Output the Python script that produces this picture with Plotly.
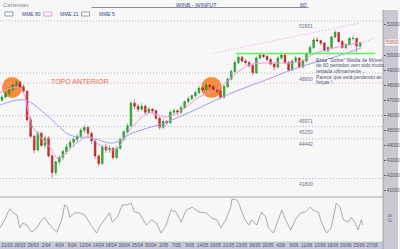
import plotly.graph_objects as go

# ---------------- data ----------------
idx = list(range(101))
opens = [47000, 47210, 47450, 47700, 48000, 48200, 47900, 47600, 45700, 44600,
         43700, 44800, 44000, 44500, 43300, 42200, 42900, 43200, 43600, 43900,
         44200, 44400, 44600, 45000, 45200, 44800, 44300, 43300, 42800, 43900,
         43700, 43800, 43200, 43800, 44400, 44900, 45300, 46800, 46600, 46400,
         46600, 46200, 46400, 46300, 45800, 45200, 45600, 45500, 46200, 46300,
         46200, 46500, 46900, 47100, 47300, 47500, 47800, 47700, 48000, 47900,
         47700, 47600, 47200, 47900, 48400, 48900, 49500, 49850, 49600, 49500,
         49300, 48800, 49800, 50000, 49900, 49700, 49400, 49200, 49800, 50000,
         49500, 49000, 49600, 49800, 49200, 49600, 50100, 50500, 51000, 50950,
         50800, 50300, 50500, 51200, 51500, 50900, 50500, 50700, 51100, 51100,
         50600]
highs = [47350, 47600, 47850, 48150, 48300, 48250, 48050, 47650, 45900, 44700,
         44950, 44900, 44650, 44600, 43400, 43000, 43350, 43700, 44100, 44350,
         44550, 44750, 45150, 45350, 45250, 44900, 44400, 43400, 44050, 44100,
         44000, 43900, 43950, 44550, 45000, 45450, 46950, 47050, 46750, 46800,
         46700, 46550, 46500, 46400, 45900, 45750, 45700, 46350, 46450, 46400,
         46650, 47000, 47250, 47400, 47650, 47950, 47900, 48150, 48100, 48000,
         47800, 47700, 48000, 48500, 49050, 49650, 50000, 49950, 49750, 49600,
         49400, 49900, 50150, 50100, 50000, 49800, 49500, 49900, 50150, 50050,
         49600, 49700, 49950, 49850, 49700, 50200, 50650, 51150, 51200, 51000,
         50850, 50600, 51300, 51650, 51550, 51000, 50800, 51200, 51300, 51150,
         50900]
lows = [46900, 47100, 47300, 47600, 47850, 47800, 47500, 45600, 44500, 43500,
        43600, 43900, 43800, 43200, 41850, 42000, 42700, 43000, 43400, 43700,
        43900, 44200, 44450, 44800, 44600, 44100, 43100, 42600, 42700, 43500,
        43500, 43050, 43100, 43700, 44300, 44800, 45200, 46400, 46200, 46300,
        46050, 46100, 46150, 45700, 45050, 45100, 45350, 45400, 46100, 46000,
        46100, 46400, 46800, 47000, 47150, 47400, 47550, 47600, 47750, 47600,
        47450, 47050, 47100, 47800, 48300, 48800, 49400, 49500, 49350, 49150,
        48650, 48750, 49700, 49800, 49600, 49300, 49000, 49100, 49700, 49400,
        48900, 48950, 49500, 49100, 49100, 49500, 50000, 50400, 50850, 50650,
        50200, 50150, 50400, 51100, 50800, 50400, 50400, 50600, 50950, 50200,
        50500]
closes = [47210, 47450, 47700, 48000, 48200, 47900, 47600, 45700, 44600, 43700,
          44800, 44000, 44500, 43300, 42200, 42900, 43200, 43600, 43900, 44200,
          44400, 44600, 45000, 45200, 44800, 44300, 43300, 42800, 43900, 43700,
          43800, 43200, 43800, 44400, 44900, 45300, 46800, 46600, 46400, 46600,
          46200, 46400, 46300, 45800, 45200, 45600, 45500, 46200, 46300, 46200,
          46500, 46900, 47100, 47300, 47500, 47800, 47700, 48000, 47900, 47700,
          47600, 47200, 47900, 48400, 48900, 49500, 49850, 49600, 49500, 49300,
          48800, 49800, 50000, 49900, 49700, 49400, 49200, 49800, 50000, 49500,
          49000, 49600, 49800, 49200, 49600, 50100, 50500, 51000, 50950, 50800,
          50300, 50500, 51200, 51500, 50900, 50500, 50700, 51100, 51100, 50600,
          50800]

mme80_idx = [-0.5, 6.4, 13, 19, 25, 31, 36.4, 46, 55, 64, 73.6, 83, 92, 100.3]
mme80_val = [46680, 47010, 45900, 44690, 44500, 44160, 44820, 45550, 46480,
             47480, 48340, 49200, 49800, 50470]

mme21_idx = [-0.6, 5, 8.6, 13.3, 15.6, 20.8, 24.4, 27.2, 31.4, 36.4, 41.1, 45.8,
             50.3, 55, 60.6, 64.2, 68.9, 73.6, 78, 82.8, 87.5, 99.4]
mme21_val = [47480, 47810, 45220, 43890, 43160, 44160, 44560, 44030, 43690, 45220,
             46150, 45880, 46350, 47210, 47810, 48540, 49340, 49470, 49470, 49540,
             50130, 50800]

osc_idx = [-0.6, 0.8, 1.7, 2.2, 3.1, 4.2, 5.0, 5.8, 6.9, 8.3, 9.7, 11.1, 11.9, 13.3,
           15.3, 16.7, 17.5, 18.3, 18.9, 20.3, 21.7, 23.1, 23.9, 25.0, 26.4, 27.2,
           28.6, 30.0, 30.8, 32.2, 33.6, 35.0, 36.1, 36.9, 38.3, 40.3, 41.7, 43.1,
           44.4, 45.8, 47.2, 48.6, 50.0, 51.4, 53.1, 55.0, 56.9, 58.6, 60.0, 61.1,
           62.5, 63.9, 64.2, 65.3, 66.1, 67.5, 68.9, 69.7, 71.1, 72.5, 73.6, 74.4,
           75.8, 77.2, 78.1, 79.2, 80.6, 81.9, 83.3, 84.7, 86.1, 86.9, 88.3, 89.2,
           90.6, 91.9, 93.3, 94.4, 95.3, 96.7, 97.5, 98.6, 99.4, 100.3, 100.8]
osc_val = [30, 48, 66, 73, 64, 59, 30, 41, 36, 20, 30, 48, 54, 36,
           20, 48, 82, 77, 54, 64, 64, 59, 48, 36, 18, 32,
           48, 64, 43, 54, 82, 82, 86, 66, 64, 36, 48, 41,
           18, 36, 70, 66, 43, 70, 77, 66, 64, 52, 48, 30,
           48, 77, 95, 95, 86, 54, 36, 48, 36, 66, 54, 30,
           18, 48, 70, 48, 25, 48, 64, 66, 77, 70, 66, 43,
           18, 30, 86, 77, 48, 43, 54, 41, 25, 48, 36]

price_ticks = [41000, 42000, 43000, 44000, 45000, 46000, 47000, 48000, 49000,
               50000, 52000]
levels = [48800, 45971, 45250, 44442, 41800]
level_labels = ["48800", "45971", "45250", "44442", "41800"]
top_level_label = "52901"
last_price = 50800
green_level = 50100
pink_level = 48140

date_pos = [1.4, 5.0, 8.7, 12.3, 16.0, 19.6, 23.2, 26.9, 30.5, 34.2, 37.8, 41.4,
            45.1, 48.7, 52.4, 56.0, 59.6, 63.3, 66.9, 70.6, 74.2, 77.8, 81.5,
            85.1, 88.8, 92.4, 96.0, 99.7, 103.3]
date_labels = ["21/03", "26/03", "28/03", "2/04", "4/04", "9/04", "12/04", "14/04",
               "18/04", "20/04", "25/04", "30/04", "2/05", "7/05", "9/05", "14/05",
               "16/05", "21/05", "23/05", "28/05", "30/05", "4/06", "6/06", "11/06",
               "13/06", "18/06", "20/06", "25/06", "27/06"]

note_lines = ['Essa "Sobre" Média de Móvel', "de 60 periodos vem sido muito",
              "testada ultimamente...", "Parece que está perdendo as", "forças !"]

# ---------------- figure ----------------
W, H = 400, 249
XR = [-0.556, 106.39]
XD = [0, 0.9625]
DOT = "1px,2px"


def px(x):
    return x / W


def py(y):
    return 1 - y / H


fig = go.Figure()

fig.add_trace(go.Scatter(x=mme80_idx, y=mme80_val, mode="lines",
                         line=dict(color="#a0a0f2", width=1, shape="spline"),
                         xaxis="x", yaxis="y", showlegend=False, hoverinfo="skip"))
fig.add_trace(go.Scatter(x=mme21_idx, y=mme21_val, mode="lines",
                         line=dict(color="#ee96e2", width=1, shape="spline"),
                         xaxis="x", yaxis="y", showlegend=False, hoverinfo="skip"))
fig.add_trace(go.Candlestick(
    x=idx, open=opens, high=highs, low=lows, close=closes,
    increasing=dict(line=dict(color="#1a7f1a", width=0.5), fillcolor="#35bb35"),
    decreasing=dict(line=dict(color="#a01616", width=0.5), fillcolor="#d83030"),
    whiskerwidth=0, xaxis="x", yaxis="y", showlegend=False))
fig.add_trace(go.Scatter(x=osc_idx, y=osc_val, mode="lines",
                         line=dict(color="#8a8a8a", width=0.7),
                         xaxis="x2", yaxis="y2", showlegend=False, hoverinfo="skip"))

shapes = []
# right axis strip and bottom strip
shapes.append(dict(type="rect", xref="paper", yref="paper", x0=XD[1], x1=1,
                   y0=0, y1=py(10), fillcolor="#c9c9d3", line=dict(width=0), layer="below"))
shapes.append(dict(type="line", xref="paper", yref="paper", x0=XD[1], x1=XD[1],
                   y0=0, y1=py(10), line=dict(color="#a0a0ae", width=1)))
shapes.append(dict(type="rect", xref="paper", yref="paper", x0=0, x1=1,
                   y0=0, y1=py(241.5), fillcolor="#c9c9d3", line=dict(width=0), layer="below"))
# header rule
shapes.append(dict(type="line", xref="paper", yref="paper", x0=px(92), x1=px(310),
                   y0=py(7.5), y1=py(7.5), line=dict(color="#8a8a96", width=1)))
# top dotted border and panel separator
shapes.append(dict(type="line", xref="paper", yref="paper", x0=0, x1=XD[1],
                   y0=py(21), y1=py(21), line=dict(color="#a8bcc8", width=1, dash=DOT)))
shapes.append(dict(type="line", xref="paper", yref="paper", x0=0, x1=XD[1],
                   y0=py(197), y1=py(197), line=dict(color="#a6a6ae", width=1)))
# levels
for lv in levels:
    shapes.append(dict(type="line", xref="paper", yref="y", x0=0, x1=XD[1],
                       y0=lv, y1=lv, line=dict(color="#b0b8c4", width=1, dash=DOT)))
shapes.append(dict(type="line", xref="paper", yref="y", x0=0, x1=XD[1],
                   y0=pink_level, y1=pink_level,
                   line=dict(color="#f0aacc", width=1, dash=DOT)))
# pink channel lines
shapes.append(dict(type="line", xref="x", yref="y", x0=59, x1=100,
                   y0=50130, y1=52130, line=dict(color="#ee99ee", width=1, dash=DOT)))
shapes.append(dict(type="line", xref="x", yref="y", x0=60, x1=104,
                   y0=47080, y1=51130, line=dict(color="#ee99ee", width=1, dash=DOT)))
# green support line
shapes.append(dict(type="line", xref="x", yref="y", x0=65.3, x1=104.2,
                   y0=green_level, y1=green_level, line=dict(color="#5ef05e", width=1.6)))
# orange "previous top" ellipses
shapes.append(dict(type="circle", xref="x", yref="y", x0=0.0, x1=5.6,
                   y0=47146, y1=48540, fillcolor="#f7862f", line=dict(width=0),
                   layer="below", opacity=0.95))
shapes.append(dict(type="circle", xref="x", yref="y", x0=55.6, x1=61.4,
                   y0=47146, y1=48540, fillcolor="#f7862f", line=dict(width=0),
                   layer="below", opacity=0.95))
# legend boxes
for x0, col in [(5, "#8c96b0"), (44, "#e59ad8"), (82, "#9a9aa6")]:
    shapes.append(dict(type="rect", xref="paper", yref="paper", x0=px(x0), x1=px(x0 + 8),
                       y0=py(16), y1=py(12), fillcolor="#ffffff",
                       line=dict(color=col, width=1)))

ann = []
small = dict(family="Liberation Sans, Arial", size=5, color="#6a7090")
for lv, lab in zip(levels, level_labels):
    ann.append(dict(xref="paper", yref="y", x=px(308), y=lv, text=lab, showarrow=False,
                    xanchor="center", yanchor="top", yshift=-0.5, font=small))
ann.append(dict(xref="paper", yref="paper", x=px(308), y=py(21), text=top_level_label,
                showarrow=False, xanchor="center", yanchor="top", yshift=-0.5, font=small))
ann.append(dict(xref="paper", yref="paper", x=px(80), y=py(81), text="TOPO ANTERIOR",
                showarrow=False, xanchor="center", yanchor="middle",
                font=dict(family="Liberation Sans, Arial", size=7, color="#f26a4a")))
for k, line in enumerate(note_lines):
    ann.append(dict(xref="paper", yref="paper", x=px(316), y=py([60, 65.5, 71, 76.5, 82][k]),
                    text=line, showarrow=False, xanchor="left", yanchor="middle",
                    font=dict(family="Liberation Sans, Arial", size=5, color="#4e5278")))
# header
ann.append(dict(xref="paper", yref="paper", x=px(1), y=py(5), text="Cartesian",
                showarrow=False, xanchor="left", yanchor="middle",
                font=dict(family="Liberation Sans, Arial", size=6, color="#8a8a8a")))
ann.append(dict(xref="paper", yref="paper", x=px(175), y=py(4.5), text="WINB - WINFUT",
                showarrow=False, xanchor="left", yanchor="middle",
                font=dict(family="Liberation Sans, Arial", size=5.5, color="#3a4a8a")))
ann.append(dict(xref="paper", yref="paper", x=px(299), y=py(4.5), text="60'",
                showarrow=False, xanchor="left", yanchor="middle",
                font=dict(family="Liberation Sans, Arial", size=5.5, color="#3a4a8a")))
for x0, lab in [(20, "MME 80"), (58, "MME 21"), (97, "MME 5")]:
    ann.append(dict(xref="paper", yref="paper", x=px(x0), y=py(14), text=lab,
                    showarrow=False, xanchor="left", yanchor="middle",
                    font=dict(family="Liberation Sans, Arial", size=5, color="#3a4a8a")))
# last price marker
ann.append(dict(xref="paper", yref="y", x=px(386.5), y=last_price, text=str(last_price),
                showarrow=False, xanchor="left", yanchor="middle", bgcolor="#ffffff",
                borderpad=0, font=dict(family="Liberation Sans, Arial", size=4.5,
                                       color="#d04040")))
ann.append(dict(xref="paper", yref="paper", x=px(392), y=py(218), text="IFR",
                showarrow=False, textangle=-90, xanchor="center", yanchor="middle",
                font=dict(family="Liberation Sans, Arial", size=5, color="#555577")))

fig.update_layout(
    width=W, height=H, margin=dict(l=0, r=0, t=0, b=0),
    paper_bgcolor="#f7f7f7", plot_bgcolor="#f7f7f7",
    showlegend=False, shapes=shapes, annotations=ann,
    xaxis=dict(domain=XD, range=XR, anchor="y", showticklabels=False, showgrid=False,
               zeroline=False, rangeslider=dict(visible=False), fixedrange=True),
    yaxis=dict(domain=[py(197), py(21)], range=[40572, 52259], anchor="x", side="right",
               tickvals=price_ticks, ticktext=[str(v) for v in price_ticks],
               tickfont=dict(family="Liberation Sans, Arial", size=4.5, color="#555566"),
               ticks="outside", ticklen=2, tickcolor="#666677", showgrid=False,
               zeroline=False),
    xaxis2=dict(domain=XD, range=XR, anchor="y2", tickvals=date_pos, ticktext=date_labels,
                tickfont=dict(family="Liberation Sans, Arial", size=4.5, color="#4a5078"),
                ticks="", showgrid=False, zeroline=False, tickangle=0),
    yaxis2=dict(domain=[py(241), py(197)], range=[0, 100], anchor="x2", side="right",
                showticklabels=False, showgrid=False, zeroline=False),
)

fig.write_html("out.html")
